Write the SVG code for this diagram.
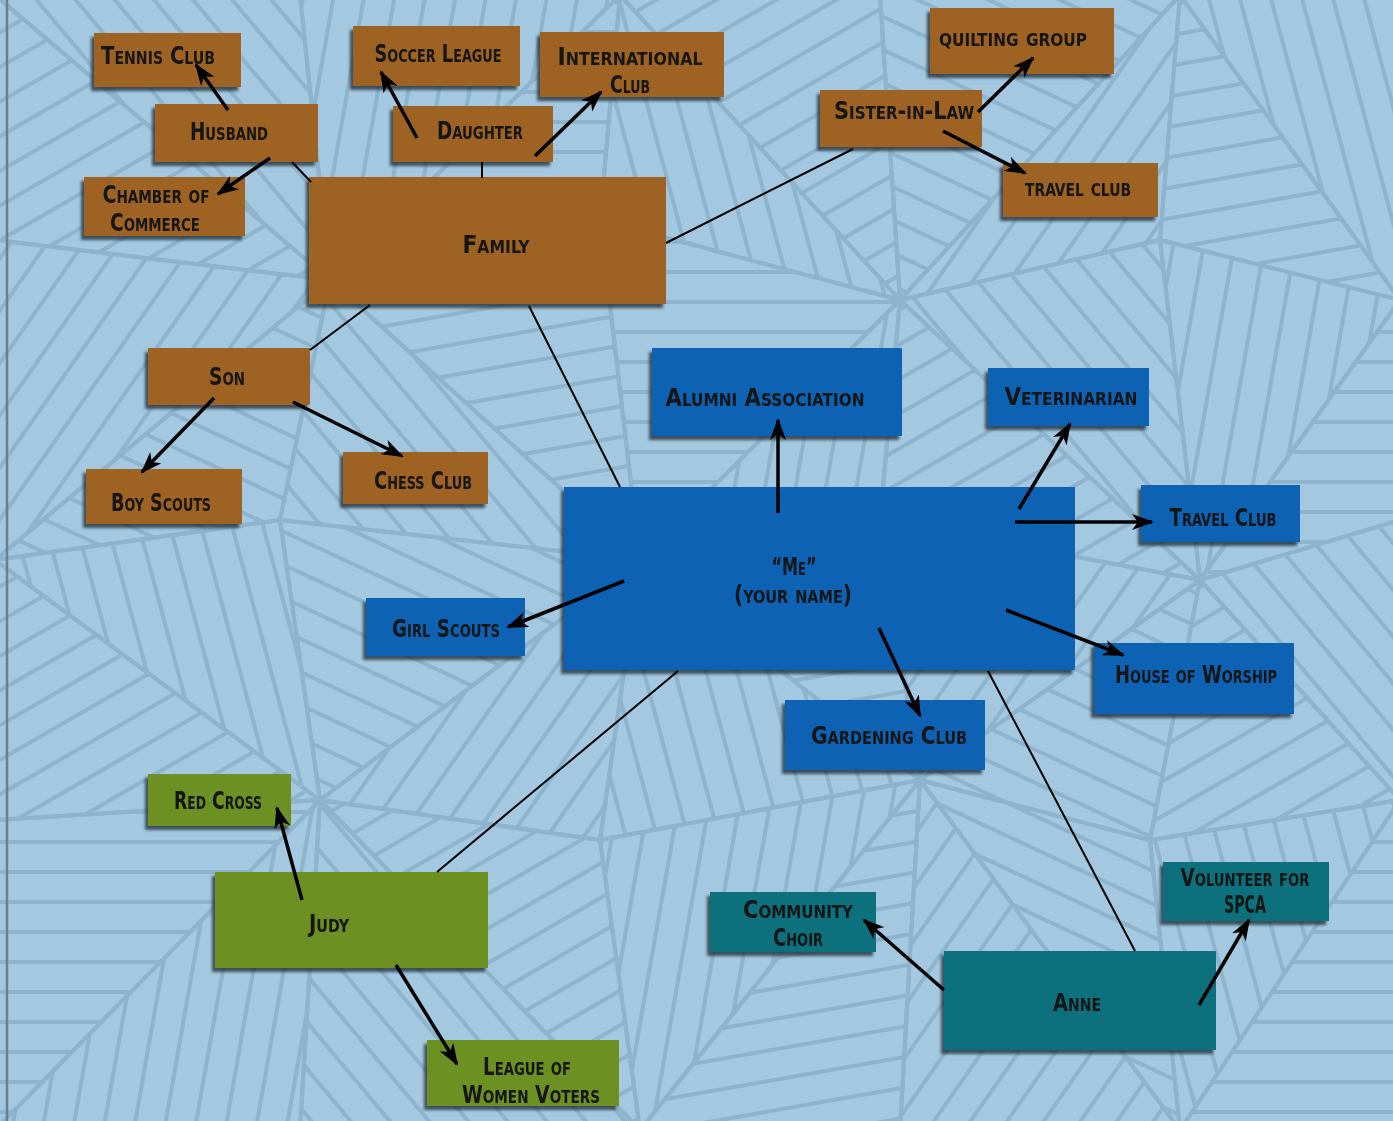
<svg xmlns="http://www.w3.org/2000/svg" width="1393" height="1121" viewBox="0 0 1393 1121">
<style>
.bgp{stroke:#8db4cc;stroke-width:4;stroke-linejoin:round}
.box{filter:url(#sh)}
.br{fill:#9e6421}
.bl{fill:#0a62b4}
.gr{fill:#6c9022}
.tl{fill:#0b717d}
.t{font-family:"DejaVu Sans Condensed","DejaVu Sans",sans-serif;font-stretch:condensed;font-variant:small-caps;font-weight:bold;font-size:25px;fill:#141414;text-anchor:middle}
.ln{stroke:#000;stroke-width:2;fill:none}
.ar{stroke:#000;stroke-width:3.5;fill:none;marker-end:url(#ah)}
</style>
<defs>
<filter id="sh" x="-10%" y="-10%" width="120%" height="130%">
<feDropShadow dx="-3" dy="4" stdDeviation="1.5" flood-color="#1e2a33" flood-opacity="0.75"/>
</filter>
<marker id="ah" markerUnits="userSpaceOnUse" markerWidth="22" markerHeight="16" refX="20" refY="8" orient="auto">
<path d="M0,0 L22,8 L0,16 L6,8 z" fill="#000"/>
</marker>
<pattern id="a0" width="30" height="30" patternUnits="userSpaceOnUse" patternTransform="rotate(0)"><rect width="30" height="4" fill="#8db4cc"/></pattern>
<pattern id="a1" width="30" height="30" patternUnits="userSpaceOnUse" patternTransform="rotate(25)"><rect width="30" height="4" fill="#8db4cc"/></pattern>
<pattern id="a2" width="30" height="30" patternUnits="userSpaceOnUse" patternTransform="rotate(50)"><rect width="30" height="4" fill="#8db4cc"/></pattern>
<pattern id="a3" width="30" height="30" patternUnits="userSpaceOnUse" patternTransform="rotate(75)"><rect width="30" height="4" fill="#8db4cc"/></pattern>
<pattern id="a4" width="30" height="30" patternUnits="userSpaceOnUse" patternTransform="rotate(100)"><rect width="30" height="4" fill="#8db4cc"/></pattern>
<pattern id="a5" width="30" height="30" patternUnits="userSpaceOnUse" patternTransform="rotate(125)"><rect width="30" height="4" fill="#8db4cc"/></pattern>
<pattern id="a6" width="30" height="30" patternUnits="userSpaceOnUse" patternTransform="rotate(150)"><rect width="30" height="4" fill="#8db4cc"/></pattern>
<pattern id="a7" width="30" height="30" patternUnits="userSpaceOnUse" patternTransform="rotate(170)"><rect width="30" height="4" fill="#8db4cc"/></pattern>
</defs>

<g id="background">
<rect width="1393" height="1121" fill="#a3c8e0"/>
<polygon class="bgp" fill="url(#a2)" points="-5,-5 300,-5 330,280"/>
<polygon class="bgp" fill="url(#a6)" points="-5,-5 330,280 -5,240"/>
<polygon class="bgp" fill="url(#a4)" points="300,-5 620,-5 330,280"/>
<polygon class="bgp" fill="url(#a0)" points="620,-5 600,220 330,280"/>
<polygon class="bgp" fill="url(#a6)" points="620,-5 880,-5 900,300"/>
<polygon class="bgp" fill="url(#a3)" points="620,-5 900,300 600,220"/>
<polygon class="bgp" fill="url(#a1)" points="880,-5 1180,-5 900,300"/>
<polygon class="bgp" fill="url(#a5)" points="1180,-5 1160,240 900,300"/>
<polygon class="bgp" fill="url(#a3)" points="1180,-5 1400,-5 1400,300"/>
<polygon class="bgp" fill="url(#a7)" points="1180,-5 1400,300 1160,240"/>
<polygon class="bgp" fill="url(#a5)" points="-5,240 330,280 -5,560"/>
<polygon class="bgp" fill="url(#a1)" points="330,280 280,520 -5,560"/>
<polygon class="bgp" fill="url(#a7)" points="330,280 600,220 640,560"/>
<polygon class="bgp" fill="url(#a2)" points="330,280 640,560 280,520"/>
<polygon class="bgp" fill="url(#a0)" points="600,220 900,300 640,560"/>
<polygon class="bgp" fill="url(#a4)" points="900,300 880,520 640,560"/>
<polygon class="bgp" fill="url(#a2)" points="900,300 1160,240 1200,580"/>
<polygon class="bgp" fill="url(#a6)" points="900,300 1200,580 880,520"/>
<polygon class="bgp" fill="url(#a4)" points="1160,240 1400,300 1200,580"/>
<polygon class="bgp" fill="url(#a0)" points="1400,300 1400,520 1200,580"/>
<polygon class="bgp" fill="url(#a3)" points="-5,560 280,520 320,800"/>
<polygon class="bgp" fill="url(#a6)" points="-5,560 320,800 -5,820"/>
<polygon class="bgp" fill="url(#a1)" points="280,520 640,560 320,800"/>
<polygon class="bgp" fill="url(#a5)" points="640,560 600,840 320,800"/>
<polygon class="bgp" fill="url(#a7)" points="640,560 880,520 920,780"/>
<polygon class="bgp" fill="url(#a3)" points="640,560 920,780 600,840"/>
<polygon class="bgp" fill="url(#a5)" points="880,520 1200,580 920,780"/>
<polygon class="bgp" fill="url(#a1)" points="1200,580 1150,840 920,780"/>
<polygon class="bgp" fill="url(#a2)" points="1200,580 1400,520 1400,800"/>
<polygon class="bgp" fill="url(#a6)" points="1200,580 1400,800 1150,840"/>
<polygon class="bgp" fill="url(#a0)" points="-5,820 320,800 -5,1130"/>
<polygon class="bgp" fill="url(#a4)" points="320,800 300,1130 -5,1130"/>
<polygon class="bgp" fill="url(#a6)" points="320,800 600,840 640,1130"/>
<polygon class="bgp" fill="url(#a2)" points="320,800 640,1130 300,1130"/>
<polygon class="bgp" fill="url(#a4)" points="600,840 920,780 640,1130"/>
<polygon class="bgp" fill="url(#a7)" points="920,780 900,1130 640,1130"/>
<polygon class="bgp" fill="url(#a1)" points="920,780 1150,840 1180,1130"/>
<polygon class="bgp" fill="url(#a5)" points="920,780 1180,1130 900,1130"/>
<polygon class="bgp" fill="url(#a3)" points="1150,840 1400,800 1180,1130"/>
<polygon class="bgp" fill="url(#a0)" points="1400,800 1400,1130 1180,1130"/>
<line x1="7" y1="0" x2="7" y2="1121" stroke="#66808f" stroke-width="2.5"/>
</g>

<g id="n-tennis" class="box"><rect class="br" x="94" y="33" width="147" height="54"/><text class="t" x="158" y="64" textLength="114" lengthAdjust="spacingAndGlyphs">Tennis Club</text></g>
<g id="n-husband" class="box"><rect class="br" x="155" y="104" width="163" height="58"/><text class="t" x="229" y="140" textLength="78" lengthAdjust="spacingAndGlyphs">Husband</text></g>
<g id="n-chamber" class="box"><rect class="br" x="84" y="177" width="161" height="59"/><text class="t" x="156" y="203" textLength="107" lengthAdjust="spacingAndGlyphs">Chamber of</text><text class="t" x="155" y="231" textLength="90" lengthAdjust="spacingAndGlyphs">Commerce</text></g>
<g id="n-soccer" class="box"><rect class="br" x="353" y="26" width="167" height="60"/><text class="t" x="438" y="62" textLength="127" lengthAdjust="spacingAndGlyphs">Soccer League</text></g>
<g id="n-daughter" class="box"><rect class="br" x="393" y="106" width="160" height="56"/><text class="t" x="480" y="139" textLength="86" lengthAdjust="spacingAndGlyphs">Daughter</text></g>
<g id="n-intl" class="box"><rect class="br" x="540" y="32" width="184" height="65"/><text class="t" x="630" y="65" textLength="145" lengthAdjust="spacingAndGlyphs">International</text><text class="t" x="630" y="93" textLength="40" lengthAdjust="spacingAndGlyphs">Club</text></g>
<g id="n-family" class="box"><rect class="br" x="309" y="177" width="357" height="127"/><text class="t" x="496" y="253" textLength="67" lengthAdjust="spacingAndGlyphs">Family</text></g>
<g id="n-quilting" class="box"><rect class="br" x="930" y="8" width="184" height="66"/><text class="t" x="1013" y="46" textLength="148" lengthAdjust="spacingAndGlyphs">quilting group</text></g>
<g id="n-sister" class="box"><rect class="br" x="820" y="90" width="162" height="57"/><text class="t" x="904" y="119" textLength="140" lengthAdjust="spacingAndGlyphs">Sister-in-Law</text></g>
<g id="n-travel1" class="box"><rect class="br" x="1003" y="163" width="155" height="54"/><text class="t" x="1078" y="196" textLength="106" lengthAdjust="spacingAndGlyphs">travel club</text></g>
<g id="n-son" class="box"><rect class="br" x="148" y="348" width="162" height="57"/><text class="t" x="227" y="385" textLength="36" lengthAdjust="spacingAndGlyphs">Son</text></g>
<g id="n-boyscouts" class="box"><rect class="br" x="86" y="469" width="156" height="55"/><text class="t" x="161" y="511" textLength="100" lengthAdjust="spacingAndGlyphs">Boy Scouts</text></g>
<g id="n-chess" class="box"><rect class="br" x="343" y="452" width="145" height="52"/><text class="t" x="423" y="489" textLength="98" lengthAdjust="spacingAndGlyphs">Chess Club</text></g>
<g id="n-alumni" class="box"><rect class="bl" x="652" y="348" width="250" height="88"/><text class="t" x="765" y="406" textLength="199" lengthAdjust="spacingAndGlyphs">Alumni Association</text></g>
<g id="n-vet" class="box"><rect class="bl" x="988" y="368" width="161" height="58"/><text class="t" x="1071" y="405" textLength="133" lengthAdjust="spacingAndGlyphs">Veterinarian</text></g>
<g id="n-me" class="box"><rect class="bl" x="564" y="487" width="511" height="183"/><text class="t" x="794" y="575" textLength="45" lengthAdjust="spacingAndGlyphs">“Me”</text><text class="t" x="793" y="603" textLength="118" lengthAdjust="spacingAndGlyphs">(your name)</text></g>
<g id="n-travel2" class="box"><rect class="bl" x="1141" y="485" width="159" height="57"/><text class="t" x="1223" y="526" textLength="107" lengthAdjust="spacingAndGlyphs">Travel Club</text></g>
<g id="n-girlscouts" class="box"><rect class="bl" x="366" y="598" width="159" height="58"/><text class="t" x="446" y="637" textLength="108" lengthAdjust="spacingAndGlyphs">Girl Scouts</text></g>
<g id="n-worship" class="box"><rect class="bl" x="1094" y="643" width="200" height="71"/><text class="t" x="1196" y="683" textLength="162" lengthAdjust="spacingAndGlyphs">House of Worship</text></g>
<g id="n-gardening" class="box"><rect class="bl" x="785" y="700" width="200" height="70"/><text class="t" x="889" y="744" textLength="156" lengthAdjust="spacingAndGlyphs">Gardening Club</text></g>
<g id="n-redcross" class="box"><rect class="gr" x="148" y="774" width="143" height="52"/><text class="t" x="218" y="809" textLength="88" lengthAdjust="spacingAndGlyphs">Red Cross</text></g>
<g id="n-judy" class="box"><rect class="gr" x="215" y="872" width="273" height="96"/><text class="t" x="329" y="932" textLength="40" lengthAdjust="spacingAndGlyphs">Judy</text></g>
<g id="n-league" class="box"><rect class="gr" x="427" y="1040" width="192" height="66"/><text class="t" x="527" y="1075" textLength="88" lengthAdjust="spacingAndGlyphs">League of</text><text class="t" x="531" y="1103" textLength="138" lengthAdjust="spacingAndGlyphs">Women Voters</text></g>
<g id="n-choir" class="box"><rect class="tl" x="710" y="892" width="166" height="60"/><text class="t" x="798" y="918" textLength="110" lengthAdjust="spacingAndGlyphs">Community</text><text class="t" x="798" y="946" textLength="50" lengthAdjust="spacingAndGlyphs">Choir</text></g>
<g id="n-spca" class="box"><rect class="tl" x="1163" y="862" width="166" height="59"/><text class="t" x="1245" y="886" textLength="129" lengthAdjust="spacingAndGlyphs">Volunteer for</text><text class="t" x="1245" y="913" textLength="42" lengthAdjust="spacingAndGlyphs">SPCA</text></g>
<g id="n-anne" class="box"><rect class="tl" x="944" y="951" width="272" height="99"/><text class="t" x="1077" y="1011" textLength="48" lengthAdjust="spacingAndGlyphs">Anne</text></g>

<g id="connectors">
<line class="ln" x1="292" y1="162" x2="311" y2="182"/>
<line class="ln" x1="482" y1="162" x2="482" y2="178"/>
<line class="ln" x1="666" y1="243" x2="853" y2="149"/>
<line class="ln" x1="370" y1="305" x2="310" y2="350"/>
<line class="ln" x1="529" y1="306" x2="620" y2="487"/>
<line class="ln" x1="678" y1="671" x2="437" y2="872"/>
<line class="ln" x1="988" y1="671" x2="1135" y2="951"/>
<line class="ar" x1="228" y1="110" x2="196" y2="65"/>
<line class="ar" x1="270" y1="158" x2="218" y2="194"/>
<line class="ar" x1="417" y1="138" x2="381" y2="72"/>
<line class="ar" x1="535" y1="156" x2="601" y2="92"/>
<line class="ar" x1="978" y1="112" x2="1033" y2="58"/>
<line class="ar" x1="943" y1="131" x2="1025" y2="173"/>
<line class="ar" x1="214" y1="398" x2="142" y2="472"/>
<line class="ar" x1="293" y1="402" x2="402" y2="456"/>
<line class="ar" x1="778" y1="513" x2="778" y2="420"/>
<line class="ar" x1="1019" y1="509" x2="1070" y2="424"/>
<line class="ar" x1="1015" y1="522" x2="1152" y2="522"/>
<line class="ar" x1="624" y1="581" x2="508" y2="627"/>
<line class="ar" x1="1006" y1="610" x2="1123" y2="655"/>
<line class="ar" x1="879" y1="628" x2="920" y2="716"/>
<line class="ar" x1="302" y1="900" x2="277" y2="808"/>
<line class="ar" x1="396" y1="965" x2="457" y2="1064"/>
<line class="ar" x1="944" y1="990" x2="864" y2="920"/>
<line class="ar" x1="1199" y1="1005" x2="1249" y2="920"/>
</g>
</svg>
